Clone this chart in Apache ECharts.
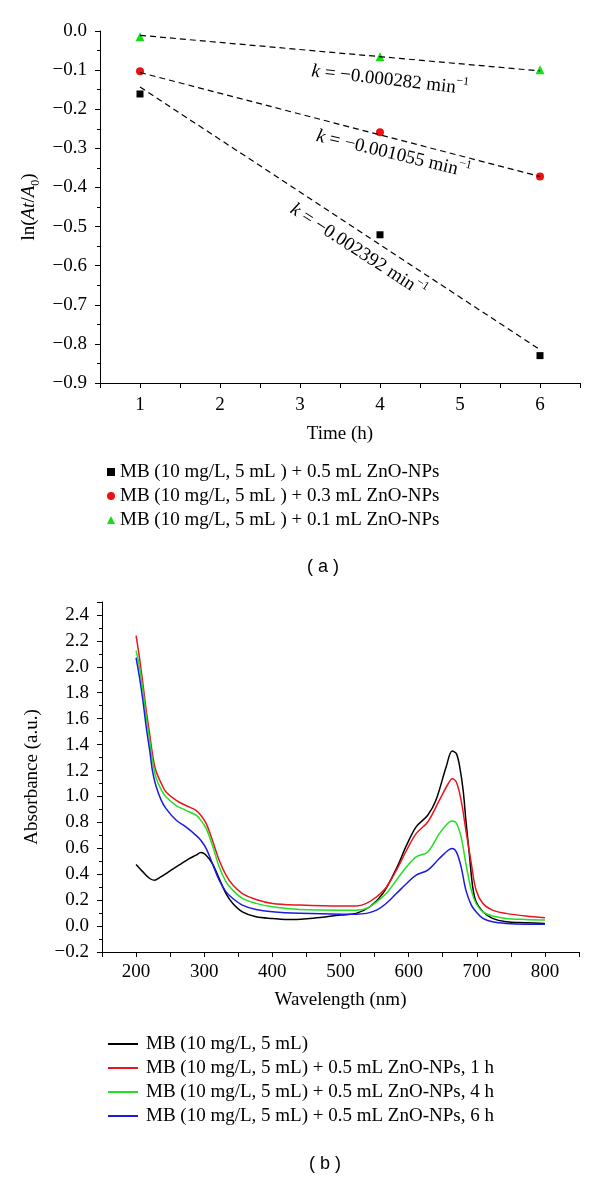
<!DOCTYPE html>
<html><head><meta charset="utf-8">
<script src="https://cdn.jsdelivr.net/npm/echarts@6/dist/echarts.min.js"></script>
<style>html,body{margin:0;padding:0;background:#fff}#main{width:600px;height:1178px}</style>
</head><body><div id="main"></div>
<script>
// ---------- Panel (a) data ----------
const timeH = [1, 4, 6];
const lnA05 = [-0.161, -0.521, -0.830];
const lnA03 = [-0.103, -0.259, -0.372];
const lnA01 = [-0.015, -0.066, -0.099];
const fitTime = [1, 6];
const fit05 = [-0.143, -0.815];
const fit03 = [-0.106, -0.372];
const fit01 = [-0.011, -0.102];
const kValues = ['−0.002392', '−0.001055', '−0.000282'];
const namesA = [
  'MB (10 mg/L, 5 mL ) + 0.5 mL ZnO-NPs',
  'MB (10 mg/L, 5 mL ) + 0.3 mL ZnO-NPs',
  'MB (10 mg/L, 5 mL ) + 0.1 mL ZnO-NPs'
];

// ---------- Panel (b) data ----------
const mbWl = [200,210,220,227,235,244,255,263,278,288,295,302,312,322,332,342,356,376,400,429,460,500,523,543,562,582,597,611,628,640,655,664,670,675,680,684,689,694,699,709,723,743,772,800];
const mbAbs = [0.475,0.418,0.367,0.354,0.375,0.405,0.444,0.47,0.52,0.547,0.567,0.55,0.482,0.367,0.25,0.174,0.11,0.072,0.059,0.05,0.06,0.085,0.098,0.149,0.25,0.444,0.624,0.765,0.855,0.97,1.227,1.35,1.33,1.227,1.047,0.816,0.559,0.303,0.187,0.11,0.059,0.033,0.026,0.02];
const npWl = [200,205,210,215,220,224,229,237,244,259,273,288,295,303,312,322,332,342,356,376,400,440,500,523,538,553,567,582,597,611,628,645,658,664,670,677,684,692,699,709,723,743,772,800];
const np1hAbs = [2.24,2.07,1.87,1.66,1.48,1.33,1.2,1.10,1.034,0.97,0.93,0.893,0.855,0.79,0.662,0.508,0.393,0.316,0.251,0.205,0.175,0.162,0.154,0.154,0.175,0.226,0.298,0.431,0.585,0.713,0.803,0.97,1.098,1.137,1.111,0.97,0.739,0.482,0.277,0.174,0.123,0.098,0.077,0.064];
const np4hAbs = [2.125,2.0,1.82,1.61,1.43,1.28,1.15,1.05,0.996,0.93,0.893,0.855,0.816,0.752,0.624,0.457,0.341,0.277,0.213,0.175,0.149,0.128,0.123,0.123,0.136,0.187,0.251,0.354,0.457,0.534,0.572,0.713,0.795,0.811,0.795,0.688,0.482,0.277,0.174,0.11,0.077,0.059,0.051,0.046];
const np6hAbs = [2.07,1.92,1.74,1.53,1.355,1.2,1.085,0.97,0.906,0.816,0.765,0.70,0.662,0.598,0.482,0.354,0.264,0.213,0.162,0.128,0.11,0.098,0.092,0.092,0.098,0.123,0.174,0.251,0.328,0.393,0.431,0.521,0.585,0.598,0.572,0.457,0.277,0.162,0.11,0.059,0.033,0.02,0.015,0.015];
const namesB = [
  'MB (10 mg/L, 5 mL)',
  'MB (10 mg/L, 5 mL) + 0.5 mL ZnO-NPs, 1 h',
  'MB (10 mg/L, 5 mL) + 0.5 mL ZnO-NPs, 4 h',
  'MB (10 mg/L, 5 mL) + 0.5 mL ZnO-NPs, 6 h'
];

// ---------- styling ----------
const SERIF = "'Liberation Serif', 'Times New Roman', serif";
const FS = 19;
const zip = (xs, ys) => xs.map((x, i) => [x, ys[i]]);
const minus = s => s.replace('-', '−');

const axisCommon = {
  axisLine: { show: true, onZero: false, lineStyle: { color: '#000', width: 1 } },
  axisTick: { show: true, inside: false, length: 5, lineStyle: { color: '#000' } },
  splitLine: { show: false },
  axisLabel: { color: '#000', fontFamily: SERIF, fontSize: FS }
};

const chart = echarts.init(document.getElementById('main'));

const option = {
  backgroundColor: '#fff',
  animation: false,
  grid: [
    { left: 100, right: 20, top: 31, bottom: 795, containLabel: false, outerBoundsMode: 'none' },
    { left: 102, right: 21, top: 602, bottom: 226, containLabel: false, outerBoundsMode: 'none' }
  ],
  xAxis: [
    Object.assign({}, axisCommon, {
      type: 'value', gridIndex: 0, min: 0.5, max: 6.5, interval: 0.5,
      axisLabel: Object.assign({}, axisCommon.axisLabel, { margin: 13,
        formatter: v => Math.abs(v - Math.round(v)) < 1e-6 ? String(Math.round(v)) : '' }),
      name: 'Time (h)', nameLocation: 'middle', nameGap: 42,
      nameTextStyle: { color: '#000', fontFamily: SERIF, fontSize: FS }
    }),
    Object.assign({}, axisCommon, {
      type: 'value', gridIndex: 1, min: 150, max: 850, interval: 50,
      axisLabel: Object.assign({}, axisCommon.axisLabel, { margin: 11,
        formatter: v => (Math.round(v) % 100 === 0) ? String(Math.round(v)) : '' }),
      name: 'Wavelength (nm)', nameLocation: 'middle', nameGap: 39,
      nameTextStyle: { color: '#000', fontFamily: SERIF, fontSize: FS }
    })
  ],
  yAxis: [
    Object.assign({}, axisCommon, {
      type: 'value', gridIndex: 0, min: -0.9, max: 0, interval: 0.1,
      minorTick: { show: true, splitNumber: 2, length: 3, lineStyle: { color: '#000' } },
      axisLabel: Object.assign({}, axisCommon.axisLabel, { margin: 13,
        formatter: v => { const r = Math.round(v * 10) / 10; return r === 0 ? '0.0' : minus(r.toFixed(1)); } }),
      name: 'ln({i|At}/{i|A}{sub|0})', nameLocation: 'middle', nameGap: 56,
      nameTextStyle: { color: '#000', fontFamily: SERIF, fontSize: FS, lineHeight: 26,
        rich: {
          i: { fontFamily: SERIF, fontSize: FS, fontStyle: 'italic', color: '#000', lineHeight: 26 },
          sub: { fontFamily: SERIF, fontSize: 12, color: '#000', verticalAlign: 'bottom', lineHeight: 26 }
        } }
    }),
    Object.assign({}, axisCommon, {
      type: 'value', gridIndex: 1, min: -0.2, max: 2.5, interval: 0.2,
      minorTick: { show: true, splitNumber: 2, length: 3, lineStyle: { color: '#000' } },
      axisLabel: Object.assign({}, axisCommon.axisLabel, { margin: 13,
        formatter: v => { const t = Math.round(v * 10); if (Math.abs(t) % 2 !== 0) return ''; const r = t / 10; return r === 0 ? '0.0' : minus(r.toFixed(1)); } }),
      name: 'Absorbance (a.u.)', nameLocation: 'middle', nameGap: 60,
      nameTextStyle: { color: '#000', fontFamily: SERIF, fontSize: FS }
    })
  ],
  legend: [
    { data: namesA, orient: 'vertical', left: 102, top: 457, itemWidth: 8, itemHeight: 8, itemGap: 4,
      selectedMode: false,
      textStyle: { color: '#000', fontFamily: SERIF, fontSize: FS, lineHeight: 20 } },
    { data: namesB.map(n => ({ name: n, icon: 'rect' })), orient: 'vertical', left: 103, top: 1029,
      itemWidth: 30, itemHeight: 2, itemGap: 4, selectedMode: false,
      textStyle: { color: '#000', fontFamily: SERIF, fontSize: FS, lineHeight: 20, padding: [0, 0, 0, 3] } }
  ],
  series: [
    { type: 'line', name: 'fit05', xAxisIndex: 0, yAxisIndex: 0, data: zip(fitTime, fit05), symbol: 'none', silent: true,
      lineStyle: { color: '#000', width: 1.2, type: [6, 4] } },
    { type: 'line', name: 'fit03', xAxisIndex: 0, yAxisIndex: 0, data: zip(fitTime, fit03), symbol: 'none', silent: true,
      lineStyle: { color: '#000', width: 1.2, type: [6, 4] } },
    { type: 'line', name: 'fit01', xAxisIndex: 0, yAxisIndex: 0, data: zip(fitTime, fit01), symbol: 'none', silent: true,
      lineStyle: { color: '#000', width: 1.2, type: [6, 4] } },
    { type: 'scatter', name: namesA[0], xAxisIndex: 0, yAxisIndex: 0, data: zip(timeH, lnA05), symbol: 'rect', symbolSize: 7,
      itemStyle: { color: '#000', opacity: 1 } },
    { type: 'scatter', name: namesA[1], xAxisIndex: 0, yAxisIndex: 0, data: zip(timeH, lnA03), symbol: 'circle', symbolSize: 8,
      itemStyle: { color: '#ee1111', opacity: 1 } },
    { type: 'scatter', name: namesA[2], xAxisIndex: 0, yAxisIndex: 0, data: zip(timeH, lnA01), symbol: 'triangle', symbolSize: 9,
      itemStyle: { color: '#16dd16', opacity: 1 } },

    { type: 'line', name: namesB[0], xAxisIndex: 1, yAxisIndex: 1, data: zip(mbWl, mbAbs), symbol: 'none', showSymbol: false,
      smooth: 0.35, lineStyle: { color: '#000', width: 1.5 }, itemStyle: { color: '#000' } },
    { type: 'line', name: namesB[1], xAxisIndex: 1, yAxisIndex: 1, data: zip(npWl, np1hAbs), symbol: 'none', showSymbol: false,
      smooth: 0.35, lineStyle: { color: '#e8161c', width: 1.5 }, itemStyle: { color: '#e8161c' } },
    { type: 'line', name: namesB[2], xAxisIndex: 1, yAxisIndex: 1, data: zip(npWl, np4hAbs), symbol: 'none', showSymbol: false,
      smooth: 0.35, lineStyle: { color: '#22e022', width: 1.5 }, itemStyle: { color: '#22e022' } },
    { type: 'line', name: namesB[3], xAxisIndex: 1, yAxisIndex: 1, data: zip(npWl, np6hAbs), symbol: 'none', showSymbol: false,
      smooth: 0.35, lineStyle: { color: '#1a1ae0', width: 1.5 }, itemStyle: { color: '#1a1ae0' } }
  ]
};
chart.setOption(option);

// rate-constant annotations, anchored in data coordinates of panel (a)
const annotAnchors = [
  { k: kValues[2], at: [4.125, -0.126], angle: 6.5 },
  { k: kValues[1], at: [4.167, -0.315], angle: 13.5 },
  { k: kValues[0], at: [3.725, -0.562], angle: 33 }
];
const graphics = annotAnchors.map(a => {
  const p = chart.convertToPixel({ xAxisIndex: 0, yAxisIndex: 0 }, a.at);
  return {
    type: 'text', x: p[0], y: p[1], rotation: -a.angle * Math.PI / 180, silent: true,
    style: {
      text: '{i|k} = ' + a.k + ' min{sup|−1}',
      fontFamily: SERIF, fontSize: FS, fill: '#000', lineHeight: 26,
      align: 'center', verticalAlign: 'middle',
      rich: {
        i: { fontFamily: SERIF, fontSize: FS, fontStyle: 'italic', fill: '#000', lineHeight: 26 },
        sup: { fontFamily: SERIF, fontSize: 12, fill: '#000', verticalAlign: 'top', lineHeight: 26 }
      }
    }
  };
});
graphics.push({ type: 'text', x: 323, y: 567, silent: true,
  style: { text: '( a )', font: "18px 'Liberation Sans', Arial, sans-serif", fill: '#000', align: 'center', verticalAlign: 'middle' } });
graphics.push({ type: 'text', x: 325, y: 1164, silent: true,
  style: { text: '( b )', font: "18px 'Liberation Sans', Arial, sans-serif", fill: '#000', align: 'center', verticalAlign: 'middle' } });
chart.setOption({ graphic: graphics });
</script>
</body></html>
